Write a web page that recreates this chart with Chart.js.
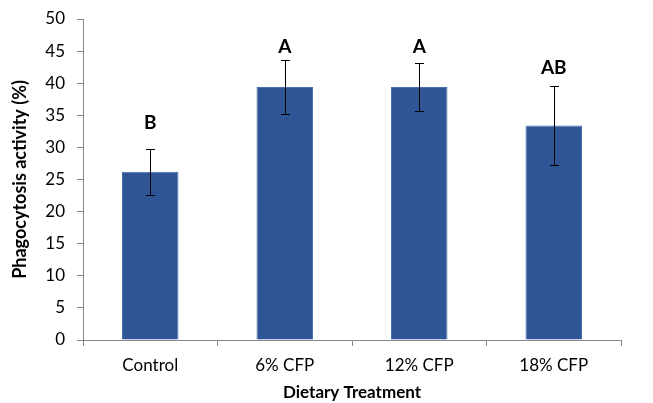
<!DOCTYPE html>
<html>
<head>
<meta charset="utf-8">
<script src="https://cdn.jsdelivr.net/npm/chart.js@4/dist/chart.umd.min.js"></script>
<style>
  html, body { margin: 0; padding: 0; background: #fff; }
  #wrap { width: 653px; height: 403px; }
</style>
</head>
<body>
<div id="wrap"><canvas id="phago" width="653" height="403"></canvas></div>
<script>
const treatments = ["Control", "6% CFP", "12% CFP", "18% CFP"];
const activity = [26.2, 39.4, 39.4, 33.4];
const errors = [3.6, 4.2, 3.7, 6.2];
const letters = ["B", "A", "A", "AB"];
const letterAt = [33.8, 45.6, 45.6, 42.4];
const yTicks = [0, 5, 10, 15, 20, 25, 30, 35, 40, 45, 50];

const fontName = "Lato, 'Open Sans', sans-serif";

// error bars + group letters
const errorBars = {
  id: "errorBars",
  afterDatasetsDraw(chart) {
    const ctx = chart.ctx;
    const meta = chart.getDatasetMeta(0);
    const y = chart.scales.y;
    ctx.save();
    meta.data.forEach((bar, i) => {
      const top = Math.round(y.getPixelForValue(activity[i] + errors[i]));
      const bot = Math.round(y.getPixelForValue(activity[i] - errors[i]));
      const x = Math.round(bar.x);
      ctx.strokeStyle = "#000";
      ctx.lineWidth = 1;
      ctx.beginPath();
      ctx.moveTo(x + 0.5, top);
      ctx.lineTo(x + 0.5, bot);
      ctx.moveTo(x - 4, top + 0.5);
      ctx.lineTo(x + 5, top + 0.5);
      ctx.moveTo(x - 4, bot + 0.5);
      ctx.lineTo(x + 5, bot + 0.5);
      ctx.stroke();

      ctx.fillStyle = "#000";
      ctx.font = "bold 19px " + fontName;
      ctx.textAlign = "center";
      ctx.textBaseline = "middle";
      ctx.fillText(letters[i], bar.x, y.getPixelForValue(letterAt[i]));
    });
    ctx.restore();
  }
};

Chart.defaults.font.family = fontName;
Chart.defaults.color = "#000";

new Chart(document.getElementById("phago").getContext("2d"), {
  type: "bar",
  data: {
    labels: treatments,
    datasets: [{
      data: activity,
      backgroundColor: "#2F5597",
      borderColor: "#4A6FAE",
      borderWidth: 1,
      barPercentage: 0.42,
      categoryPercentage: 1
    }]
  },
  options: {
    responsive: false,
    animation: false,
    layout: { padding: { top: 19, right: 32, left: 0, bottom: 0 } },
    plugins: { legend: { display: false }, tooltip: { enabled: false } },
    scales: {
      x: {
        grid: {
          offset: true,
          drawOnChartArea: false,
          tickLength: 6,
          color: "#868686"
        },
        border: { color: "#868686", width: 1 },
        ticks: { font: { size: 17 }, padding: 9 },
        title: {
          display: true,
          text: "Dietary Treatment",
          font: { size: 17, weight: "bold" },
          padding: { top: 1, bottom: 0 }
        },
        afterFit(scale) {
          scale.height = 63;
          scale.paddingLeft = 0;
          scale.paddingRight = 0;
        }
      },
      y: {
        min: 0,
        max: 50,
        afterBuildTicks(scale) { scale.ticks = yTicks.map(v => ({ value: v })); },
        grid: {
          drawOnChartArea: false,
          tickLength: 6,
          color: "#868686"
        },
        border: { color: "#868686", width: 1 },
        ticks: { font: { size: 17 }, padding: 12 },
        title: {
          display: true,
          text: "Phagocytosis activity (%)",
          font: { size: 18, weight: "bold" },
          padding: { top: 9, bottom: 6 }
        },
        afterFit(scale) {
          scale.width = 83;
          scale.paddingTop = 0;
          scale.paddingBottom = 0;
        }
      }
    }
  },
  plugins: [errorBars]
});
</script>
</body>
</html>
